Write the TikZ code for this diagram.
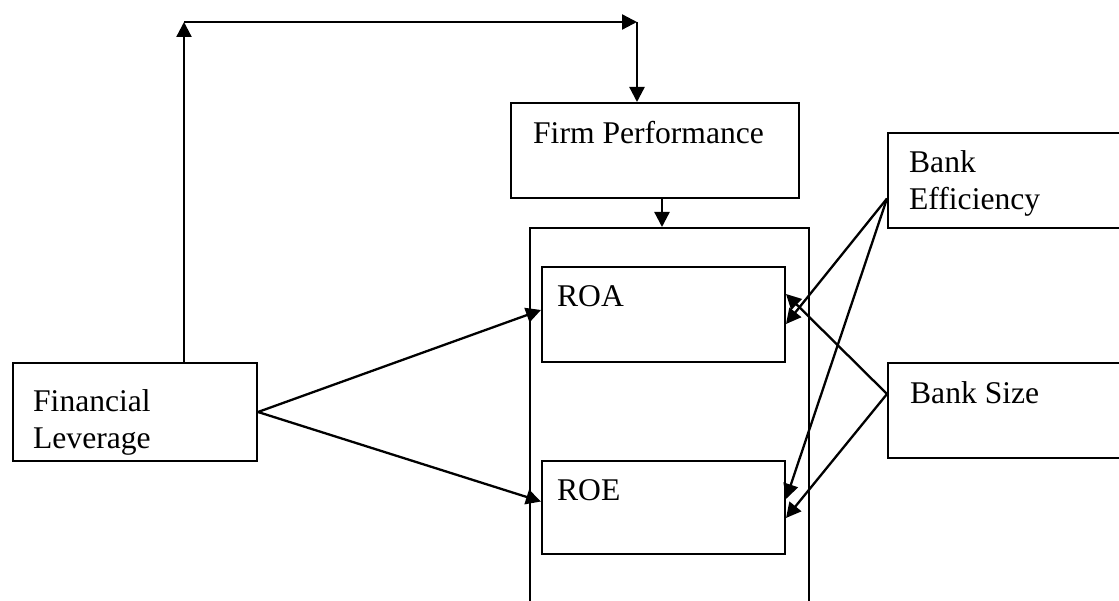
\documentclass[tikz,border=0pt]{standalone}
\usepackage{fontspec}
\setmainfont{Liberation Serif}
\usetikzlibrary{positioning,arrows.meta}

\begin{document}
\begin{tikzpicture}[
x=1pt, y=-1pt,
box/.style={
draw,
line width=2pt,
inner sep=0pt,
anchor=north west
},
txt/.style={
inner sep=0pt,
anchor=north west,
align=left,
font=\fontsize{31.6}{37}\selectfont
},
line width=2.3pt,
>={Triangle[length=15pt,width=15pt]}
]

\useasboundingbox (0,0) rectangle (1119,601);

\node[box, minimum width=244pt, minimum height=98pt] (fl) at (12,362) {};

\node[box, minimum width=288pt, minimum height=95pt] (firm) at (510,102) {};

\node[box, minimum width=279pt, minimum height=400pt] (perf) at (529,227) {};

\node[box, minimum width=243pt, minimum height=95pt] (roa) at (541,266) {};

\node[box, minimum width=243pt, minimum height=93pt] (roe) at (541,460) {};

\node[box, minimum width=240pt, minimum height=95pt] (be) at (887,132) {};

\node[box, minimum width=240pt, minimum height=95pt] (bs) at (887,362) {};

\node[txt] (fltxt) at (32,388) {Financial\\Leverage};
\node[txt] (firmtxt) at (532,120) {Firm Performance};
\node[txt] (roatxt) at (556,284) {ROA};
\node[txt] (roetxt) at (556,478) {ROE};
\node[txt] (betxt) at (908,149) {Bank\\Efficiency};
\node[txt] (bstxt) at (909,380) {Bank Size};

% Loop back over the top
\coordinate (up) at (184,22);
\coordinate (over) at (637,22);
\draw[->] (fl.north -| up) -- (up);
\draw[->] (up) -- (over);
\draw[->] (over) -- (firm.north -| over);

\draw[->] ([xshift=7pt]firm.south) -- ([xshift=7pt]firm.south |- perf.north);

\draw[->] (fl.east) -- ([yshift=4.5pt]roa.west);
\draw[->] (fl.east) -- ([yshift=6pt]roe.west);

\draw[->] ([yshift=-18pt]be.west) -- ([yshift=-9.5pt]roa.east);
\draw[->] ([yshift=-18pt]be.west) -- ([yshift=8.5pt]roe.east);

\draw[->] ([yshift=16.5pt]bs.west) -- ([yshift=20.5pt]roa.east);
\draw[->] ([yshift=16.5pt]bs.west) -- ([yshift=-10.5pt]roe.east);

\end{tikzpicture}
\end{document}
